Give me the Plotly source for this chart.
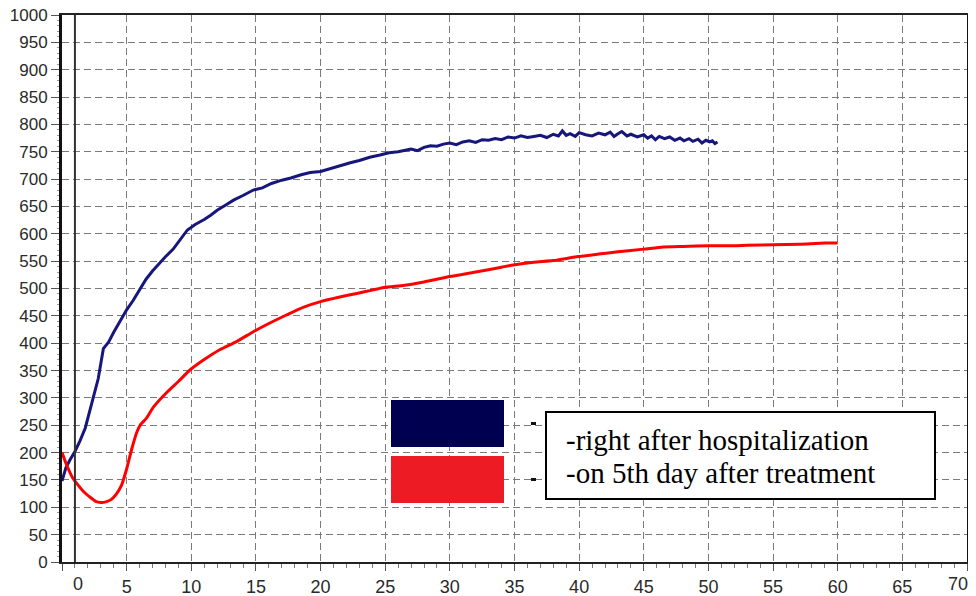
import plotly.graph_objects as go

# ---- data ----
blue_x = [0, 0.3, 0.6, 1.0, 1.4, 1.8, 2.3, 2.8, 3.2, 3.6, 4.0, 4.5, 5.0, 5.5, 6.0, 6.5,
          7.0, 7.5, 8.0, 8.6, 9.2, 9.7, 10.3, 11.0, 11.5, 12.0, 12.7, 13.3, 14.0, 14.8,
          15.5, 16.2, 17.0, 17.7, 18.5, 19.2, 20.0, 20.8, 21.5, 22.3, 23.0, 23.8, 24.6,
          25.3, 26.0, 26.5, 27.0, 27.5, 28.0, 28.5, 29.0, 29.5, 30.0, 30.5, 31.0, 31.5,
          32.0, 32.5, 33.0, 33.5, 34.0, 34.5, 35.0, 35.5, 36.0, 36.5, 37.0, 37.5,
          38.0, 38.4, 38.7, 39.0, 39.3, 39.7, 40.0, 40.5, 41.0, 41.5, 42.0, 42.4, 42.7,
          43.0, 43.3, 43.7, 44.0, 44.5, 45.0, 45.3, 45.6, 45.9, 46.2, 46.6, 47.0, 47.4,
          47.8, 48.1, 48.5, 48.8, 49.2, 49.5, 49.8, 50.1, 50.3, 50.5, 50.7]
blue_y = [148, 172, 186, 202, 222, 245, 290, 335, 390, 402, 420, 440, 461, 478, 497, 517,
          532, 546, 558, 572, 590, 607, 617, 626, 634, 643, 653, 662, 670, 680,
          684, 692, 698, 702, 708, 712, 714, 720, 724, 730, 734, 740, 744,
          748, 750, 753, 755, 752, 758, 761, 760, 764, 766, 763, 768, 770,
          767, 772, 771, 774, 772, 777, 775, 779, 776, 778, 780, 776,
          782, 779, 788, 780, 783, 778, 785, 781, 779, 784, 781, 786, 778,
          783, 787, 779, 782, 777, 781, 775, 779, 772, 778, 774, 777, 771,
          775, 770, 774, 769, 773, 766, 771, 768, 770, 765, 768]

red_x = [0, 0.4, 0.8, 1.2, 1.7, 2.2, 2.6, 3.0, 3.4, 3.8, 4.2, 4.6, 5.0, 5.4, 5.8, 6.1,
         6.5, 7.1, 8.1, 9.0, 9.9, 11.0, 12.2, 13.5, 14.8, 16.0, 17.4, 18.7, 20.0, 21.4,
         22.8, 24.0, 24.9, 26.5, 28.0, 30.0, 32.0, 34.0, 34.9, 36.5, 38.0, 39.8, 41.5,
         43.0, 45.0, 46.5, 48.0, 50.1, 52.0, 53.0, 55.0, 57.0, 59.0, 60.0]
red_y = [200, 175, 155, 142, 128, 118, 111, 109, 110, 114, 124, 140, 170, 207, 238, 252,
         262, 284, 310, 330, 351, 370, 388, 403, 421, 436, 452, 466, 476, 484,
         491, 497, 502, 506, 512, 522, 530, 539, 543, 548, 551, 558, 563,
         567, 572, 576, 577, 578, 578, 579, 580, 581, 583, 583]

x_tick_vals = [0, 5, 10, 15, 20, 25, 30, 35, 40, 45, 50, 55, 60, 65, 70]
x_tick_labels = ["0", "5", "10", "15", "20", "25", "30", "35", "40", "45", "50", "55", "60", "65", "70"]
# the two edge labels are drawn as annotations (the "0" sits right of the axis, next to the
# vertical marker line; the "70" is pulled in so it stays inside the window)
edge_label_pos = {0: 1.26, 70: 69.3}
zero_line_x = 1.0

y_tick_vals = list(range(0, 1001, 50))
y_tick_text = [str(v) for v in y_tick_vals]

legend_labels = ["-right after hospitalization", "-on 5th day after treatment"]

# ---- layout geometry (page pixels; page body has an 8px margin) ----
OFF = 8
W, H = 976 - OFF, 596 - OFF
PLOT_L, PLOT_R, PLOT_T, PLOT_B = 62, 967, 15, 562   # in page pixels
ML = PLOT_L - OFF
MT = PLOT_T - OFF
MR = W - (PLOT_R - OFF)
MB = H - (PLOT_B - OFF)
PW, PH = PLOT_R - PLOT_L, PLOT_B - PLOT_T


def px(xp):
    return (xp - PLOT_L) / PW


def py(yp):
    return (PLOT_B - yp) / PH


x_tick_text = ["" if v in edge_label_pos else t for v, t in zip(x_tick_vals, x_tick_labels)]

fig = go.Figure()
fig.add_trace(go.Scatter(x=blue_x, y=blue_y, mode="lines",
                         line=dict(color="#16167c", width=3), hoverinfo="skip"))
fig.add_trace(go.Scatter(x=red_x, y=red_y, mode="lines",
                         line=dict(color="#ff0000", width=3, shape="spline", smoothing=0.6),
                         hoverinfo="skip"))

grid_dash = "7px,4px"
grid_col = "#7a7a7a"
tick_font = dict(family="Liberation Sans", size=18, color="#2a2a2a")
fig.update_layout(
    width=W, height=H,
    margin=dict(l=ML, r=MR, t=MT, b=MB),
    plot_bgcolor="white", paper_bgcolor="white",
    showlegend=False,
    xaxis=dict(range=[0, 70], tickmode="array", tickvals=x_tick_vals, ticktext=x_tick_text,
               showgrid=True, gridcolor=grid_col, gridwidth=1, griddash=grid_dash,
               ticks="outside", ticklen=7, tickcolor="#555", tickwidth=1,
               minor=dict(tickmode="linear", tick0=0, dtick=1, ticks="outside", ticklen=4,
                          tickcolor="#777", showgrid=False),
               showline=True, linecolor="#222", linewidth=2, mirror=True, zeroline=False,
               tickfont=tick_font, ticklabeloverflow="allow",
               automargin=False, fixedrange=True),
    yaxis=dict(range=[0, 1000], tickmode="array", tickvals=y_tick_vals, ticktext=y_tick_text,
               showgrid=True, gridcolor=grid_col, gridwidth=1, griddash=grid_dash,
               ticks="outside", ticklen=8, tickcolor="#555", tickwidth=1,
               minor=dict(tickmode="linear", tick0=0, dtick=10, ticks="outside", ticklen=2,
                          tickcolor="#999", showgrid=False),
               showline=True, linecolor="#111", linewidth=3, mirror=True, zeroline=False,
               tickfont=dict(family="Liberation Sans", size=17, color="#2a2a2a"),
               ticklabeloverflow="allow",
               automargin=False, fixedrange=True),
)

shapes = [
    dict(type="line", xref="x", yref="paper", x0=zero_line_x, x1=zero_line_x, y0=0, y1=1,
         line=dict(color="#333", width=2)),
    dict(type="rect", xref="paper", yref="paper", x0=px(391), x1=px(504), y0=py(447), y1=py(400),
         fillcolor="#000050", line=dict(width=0)),
    dict(type="rect", xref="paper", yref="paper", x0=px(391), x1=px(504), y0=py(503), y1=py(456),
         fillcolor="#ed1c24", line=dict(width=0)),
    dict(type="rect", xref="paper", yref="paper", x0=px(531), x1=px(536), y0=py(425), y1=py(422),
         fillcolor="#111", line=dict(width=0)),
    dict(type="rect", xref="paper", yref="paper", x0=px(531), x1=px(536), y0=py(481), y1=py(478),
         fillcolor="#111", line=dict(width=0)),
    dict(type="rect", xref="paper", yref="paper", x0=px(546), x1=px(935), y0=py(499), y1=py(412),
         fillcolor="white", line=dict(color="#000", width=2)),
]
fig.update_layout(shapes=shapes)

annotations = []
for v, t in zip(x_tick_vals, x_tick_labels):
    if v in edge_label_pos:
        annotations.append(dict(text=t, xref="x", yref="paper", x=edge_label_pos[v], y=0,
                                yanchor="top", xanchor="center", yshift=-10, showarrow=False,
                                font=tick_font))
annotations += [
    dict(text=legend_labels[0], xref="paper", yref="paper", x=px(564), y=py(440),
         xanchor="left", yanchor="middle", showarrow=False,
         font=dict(family="Liberation Serif", size=29, color="#000")),
    dict(text=legend_labels[1], xref="paper", yref="paper", x=px(564), y=py(473),
         xanchor="left", yanchor="middle", showarrow=False,
         font=dict(family="Liberation Serif", size=29, color="#000")),
]
fig.update_layout(annotations=annotations)

fig.write_html("out.html")
